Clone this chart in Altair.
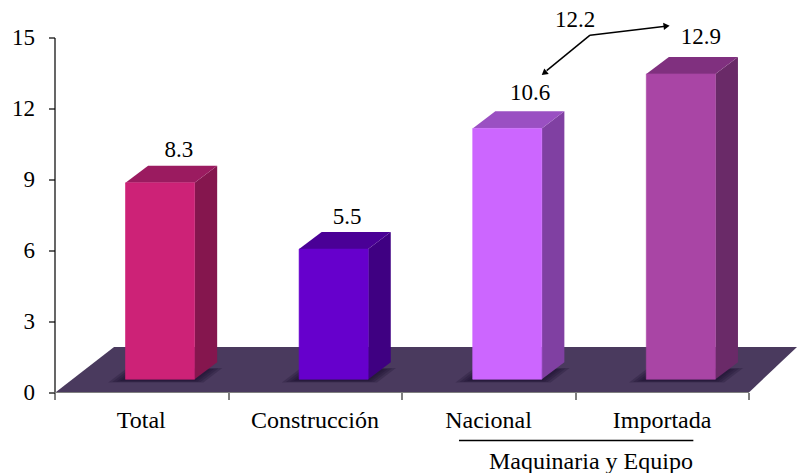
import altair as alt
import pandas as pd

# Series drawn as 3-D style columns on a floor plate
categories = ["Total", "Construcción", "Nacional", "Importada"]
values = [8.3, 5.5, 10.6, 12.9]
front_colors = ["#cd2277", "#6600cc", "#cc66ff", "#a945a5"]
side_colors = ["#85164e", "#3f0082", "#8040a2", "#6a2a68"]
top_colors = ["#9b1b60", "#4a0096", "#9a50c2", "#80307f"]
label_shift = [-0.003, -0.035, 0.02, 0.004]
label_lift = [0.38, 0.34, 0.48, 0.54]
category_centers = [0.5, 1.5, 2.5, 3.5]
y_ticks = [0, 3, 6, 9, 12, 15]
x_ticks = [0, 1, 2, 3, 4]

group_title = "Maquinaria y Equipo"
group_value = "12.2"

# Projection constants, in axis units
BAR_LEFT = 0.409
BAR_WIDTH = 0.398
BASE = 0.56
DEPTH_X = 0.13
DEPTH_Y = 0.72
FONT = "Liberation Serif"
NUMBER_SIZE = 23
WORD_SIZE = 24

x_scale = alt.Scale(domain=[0, 742.5 / 173.6], range=[0, 742.5], nice=False, zero=False)
y_scale = alt.Scale(domain=[0, 15], nice=False, zero=False)
x_axis = alt.Axis(values=x_ticks, labels=False, domain=False, grid=False,
                  tickColor="#000000", tickSize=7, tickWidth=1, title=None)
y_axis = alt.Axis(values=y_ticks, grid=False, domainColor="#000000", domainWidth=1.2,
                  tickColor="#000000", tickSize=6, tickWidth=1.2,
                  labelFont=FONT, labelFontSize=NUMBER_SIZE, labelColor="#000000",
                  labelPadding=14, format="d", title=None)


def X(field="x"):
    return alt.X(f"{field}:Q", scale=x_scale, axis=x_axis)


def Y(field="y"):
    return alt.Y(f"{field}:Q", scale=y_scale, axis=y_axis)


COLOR = alt.Color("color:N", scale=None, legend=None)
EDGE = alt.Stroke("color:N", scale=None, legend=None)

front, sides, tops, shadows = [], [], [], []
for i, v in enumerate(values):
    left = i + BAR_LEFT
    right = left + BAR_WIDTH
    top = v + BASE
    front.append(dict(x=left, x2=right, y=BASE, y2=top, color=front_colors[i]))
    for t, (xx, off) in enumerate([(right, 0.0), (right + DEPTH_X, DEPTH_Y)]):
        sides.append(dict(g=i, t=t, x=xx, y=BASE + off, y2=top + off, color=side_colors[i]))
    for t, off in enumerate([(0.0), (DEPTH_Y)]):
        tops.append(dict(g=i, t=t, y=top + off, x=left + off / DEPTH_Y * DEPTH_X,
                         x2=right + off / DEPTH_Y * DEPTH_X, color=top_colors[i]))
    # Soft contact shadow around the foot of each column
    for k, grow in enumerate([0.075, 0.055, 0.035, 0.018]):
        for t, off in enumerate([-0.06 - grow, DEPTH_Y * 0.55 + grow]):
            frac = off / DEPTH_Y
            shadows.append(dict(g=f"{i}-{k}", t=t, y=BASE + off,
                                x=left - grow + frac * DEPTH_X,
                                x2=right + grow + frac * DEPTH_X))

floor = pd.DataFrame([
    dict(t=0, y=0.0, x=0.005, x2=4.0),
    dict(t=1, y=1.92, x=0.343, x2=4.277),
])

floor_layer = alt.Chart(floor).mark_area(orient="horizontal", color="#4a3a5e", opacity=1).encode(
    x=X(), x2=alt.X2("x2:Q"), y=Y()
)
shadow_layer = alt.Chart(pd.DataFrame(shadows)).mark_area(
    orient="horizontal", color="#1c1030", opacity=0.26
).encode(x=X(), x2=alt.X2("x2:Q"), y=Y(), detail="g:N")

baseline = alt.Chart(pd.DataFrame([dict(x=0, x2=4, y=0)])).mark_rule(
    color="#808080", strokeWidth=1.2
).encode(x=X(), x2=alt.X2("x2:Q"), y=Y())

front_layer = alt.Chart(pd.DataFrame(front)).mark_rect(strokeWidth=0.6).encode(
    x=X(), x2=alt.X2("x2:Q"), y=Y(), y2=alt.Y2("y2:Q"), color=COLOR, stroke=EDGE
)
side_layer = alt.Chart(pd.DataFrame(sides)).mark_area(orient="vertical", opacity=1).encode(
    x=X(), y=Y(), y2=alt.Y2("y2:Q"), color=COLOR, detail="g:N"
)
top_layer = alt.Chart(pd.DataFrame(tops)).mark_area(orient="horizontal", opacity=1).encode(
    x=X(), x2=alt.X2("x2:Q"), y=Y(), color=COLOR, detail="g:N"
)

number_style = dict(font=FONT, fontSize=NUMBER_SIZE, color="#000000", baseline="alphabetic", align="center")
word_style = dict(number_style, fontSize=WORD_SIZE)

value_labels = alt.Chart(pd.DataFrame([
    dict(x=i + 0.72 + label_shift[i], y=v + BASE + DEPTH_Y + label_lift[i], text=f"{v:.1f}")
    for i, v in enumerate(values)
] + [dict(x=2.999, y=15.44, text=group_value)])).mark_text(**number_style).encode(
    x=X(), y=Y(), text="text:N"
)

category_labels = alt.Chart(pd.DataFrame(
    [dict(x=c, y=-1.49, text=t) for c, t in zip(category_centers, categories)]
    + [dict(x=3.09, y=-3.22, text=group_title)]
)).mark_text(**word_style).encode(x=X(), y=Y(), text="text:N")

group_rule = alt.Chart(pd.DataFrame([dict(x=2.33, x2=3.68, y=-2.03)])).mark_rule(
    color="#000000", strokeWidth=1.5
).encode(x=X(), x2=alt.X2("x2:Q"), y=Y())

# Bent arrow joining the group value to both of its columns
arrows = pd.DataFrame([
    dict(g=0, t=0, x=3.085, y=15.1),
    dict(g=0, t=1, x=2.835, y=13.6),
    dict(g=1, t=0, x=3.085, y=15.1),
    dict(g=1, t=1, x=3.52, y=15.48),
])
arrow_lines = alt.Chart(arrows).mark_line(color="#000000", strokeWidth=1.5).encode(
    x=X(), y=Y(), detail="g:N", order="t:Q"
)
arrow_heads = alt.Chart(pd.DataFrame([
    dict(x=2.825, y=13.52, angle=231.3),
    dict(x=3.52, y=15.48, angle=83.4),
])).mark_point(shape="triangle", filled=True, color="#000000", size=50, opacity=1).encode(
    x=X(), y=Y(), angle=alt.Angle("angle:Q", scale=None)
)

chart = alt.layer(
    floor_layer, shadow_layer, baseline, side_layer, top_layer, front_layer,
    value_labels, category_labels, group_rule, arrow_lines, arrow_heads,
).properties(
    width=742.5,
    height=355,
    autosize=alt.AutoSizeParams(type="none"),
    padding={"left": 54.5, "top": 37.5, "right": 0, "bottom": 80.5},
    background="#ffffff",
).configure_view(stroke=None)

chart.save("out.html", embed_options={"renderer": "svg", "actions": False})
